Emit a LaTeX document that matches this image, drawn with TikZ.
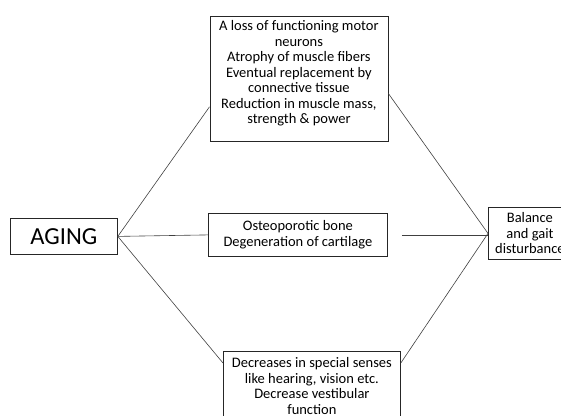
\documentclass[tikz,border=0pt]{standalone}
\usepackage{fontspec}
\setmainfont{Carlito}
\usetikzlibrary{positioning}
\tikzset{
  % riquadro con il testo
  box/.style={draw=black!85, line width=0.8pt, inner sep=0pt, anchor=north west,
    align=center, font=\fontsize{14.5}{15.5}\selectfont},
  % testo del riquadro grande
  testo/.style={align=center, font=\fontsize{14.5}{15.5}\selectfont, inner sep=0pt},
  % linee di collegamento
  link/.style={draw=black!75, line width=0.6pt}
}

\begin{document}
\begin{tikzpicture}[x=1pt, y=-1pt]
  \useasboundingbox (0,0) rectangle (561,415);

  % riquadri
  \node[box, minimum width=107pt, minimum height=36pt,
    font=\fontsize{24.5}{26}\selectfont] (aging) at (10,218) {AGING};
  \node[box, minimum width=178pt, minimum height=125pt] (motor) at (209.5,16) {};
  \node[testo, anchor=north] (motortxt) at ([yshift=-4.5pt]motor.north)
    {A loss of functioning motor\\neurons\\Atrophy of muscle fibers\\
     Eventual replacement by\\connective tissue\\Reduction in muscle mass,\\
     strength \& power};
  \node[box, minimum width=179pt, minimum height=43pt] (bone) at (208,213)
    {Osteoporotic bone\\Degeneration of cartilage};
  \node[box, minimum width=177pt, minimum height=69pt] (senses) at (223,351)
    {Decreases in special senses\\like hearing, vision etc.\\
     Decrease vestibular\\function};
  \node[box, minimum width=83pt, minimum height=52pt] (gait) at (488,207)
    {Balance\\and gait\\disturbance};

  % collegamenti a sinistra
  \draw[link] (aging.east) -- ([yshift=35pt]motor.south west);
  \draw[link] (aging.east) -- (bone.west);
  \draw[link] (aging.east) -- ([yshift=-12pt]senses.north west);

  % collegamenti a destra
  \draw[link] ([yshift=-14.5pt]motor.east) -- (gait.west);
  \draw[link] ([xshift=14pt]bone.east) -- (bone.east -| gait.west);
  \draw[link] ([yshift=-12pt]senses.north east) -- (gait.west);
\end{tikzpicture}
\end{document}
